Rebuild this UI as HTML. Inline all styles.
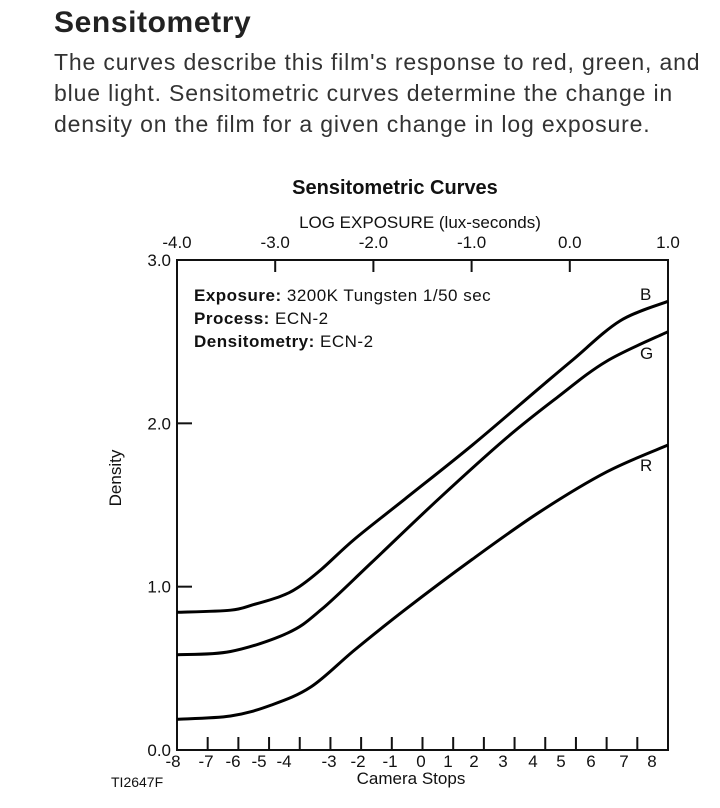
<!DOCTYPE html>
<html><head><meta charset="utf-8"><style>
html,body{margin:0;padding:0;background:#fff;width:720px;height:808px;overflow:hidden}
.h{position:absolute;left:54px;top:6px;font:bold 30px "Liberation Sans",sans-serif;letter-spacing:0.6px;color:#222;margin:0}
.p{position:absolute;left:54px;top:47px;width:666px;font:23px/31px "Liberation Sans",sans-serif;letter-spacing:0.85px;color:#333;margin:0}
svg{position:absolute;left:0;top:0}
svg text{font-family:"Liberation Sans",sans-serif;fill:#111}
</style></head><body>
<h1 class="h">Sensitometry</h1>
<p class="p">The curves describe this film's response to red, green, and blue light. Sensitometric curves determine the change in density on the film for a given change in log exposure.</p>
<svg id="chart" width="720" height="808"></svg>
<script>
const logExp = [-4.0,-3.455,-3.216,-2.95,-2.77,-2.53,-2.19,-1.676,-0.992,-0.31,0.035,0.514,1.0];
const bDensity = [0.843,0.856,0.891,0.94,0.994,1.106,1.292,1.538,1.867,2.216,2.391,2.628,2.747];
const gLogExp = [-4.0,-3.455,-2.874,-2.53,-2.018,-1.334,-0.65,-0.136,0.377,1.0];
const gDensity = [0.583,0.603,0.716,0.86,1.148,1.538,1.908,2.155,2.381,2.561];
const rLogExp = [-4.0,-3.455,-3.045,-2.634,-2.19,-1.676,-0.992,-0.31,0.377,1.0];
const rDensity = [0.188,0.208,0.274,0.387,0.613,0.86,1.168,1.456,1.703,1.867];
const topTicks = [-4.0,-3.0,-2.0,-1.0,0.0,1.0];
const yTicks = [0.0,1.0,2.0,3.0];
const stopLabels = [-8,-7,-6,-5,-4,-3,-2,-1,0,1,2,3,4,5,6,7,8];

const L=177,R=668,T=260,B=750;
const xS=v=>L+(v+4)/5*(R-L);
const yS=v=>B-v/3*(B-T);
const svg=document.getElementById('chart');
const NS='http://www.w3.org/2000/svg';
function mk(tag,attrs,parent){const e=document.createElementNS(NS,tag);for(const k in attrs)e.setAttribute(k,attrs[k]);(parent||svg).appendChild(e);return e;}
function txt(s,attrs){const e=mk('text',attrs);e.textContent=s;return e;}

let t=txt('Sensitometric Curves',{x:395,y:194,'text-anchor':'middle','font-size':20,'font-weight':'bold'});

t=txt('LOG EXPOSURE (lux-seconds)',{x:420,y:228,'text-anchor':'middle','font-size':17});

t=txt('Density',{x:0,y:0,'text-anchor':'middle','font-size':17,transform:'translate(121,478) rotate(-90)'});

t=txt('Camera Stops',{x:411,y:784,'text-anchor':'middle','font-size':17});

t=txt('TI2647F',{x:111,y:787,'font-size':14});


let box=mk('rect',{x:L,y:T,width:R-L,height:B-T,fill:'none',stroke:'#111','stroke-width':2});


topTicks.forEach(v=>{
  const x=xS(v);
  if(v>-4&&v<1){const l=mk('line',{x1:x,y1:T,x2:x,y2:T+12,stroke:'#111','stroke-width':2});}
  const e=txt(v.toFixed(1),{x:x,y:248,'text-anchor':'middle','font-size':17});
  
});
yTicks.forEach(v=>{
  const y=yS(v);
  if(v>0&&v<3){const l=mk('line',{x1:L,y1:y,x2:L+15,y2:y,stroke:'#111','stroke-width':2});}
  const e=txt(v.toFixed(1),{x:171,y:y+6,'text-anchor':'end','font-size':17});
  
});
const stopTickStep=(R-L)/16;
for(let i=1;i<16;i++){
  const x=L+i*stopTickStep;
  const l=mk('line',{x1:x,y1:B,x2:x,y2:B-13,stroke:'#111','stroke-width':2});
  
}
const stopLabelX=[173,206,233,259,284,329,358,390,421,448,474,503,533,561,591,624,652];
stopLabels.forEach((s,i)=>{
  const e=txt(String(s),{x:stopLabelX[i],y:767,'text-anchor':'middle','font-size':17});
  
});

function path(xs,ys){
  const p=xs.map((v,i)=>[xS(v),yS(ys[i])]);
  let d='M'+p[0][0]+','+p[0][1];
  for(let i=0;i<p.length-1;i++){
    const p0=p[i-1]||p[i],p1=p[i],p2=p[i+1],p3=p[i+2]||p2;
    d+=' C'+(p1[0]+(p2[0]-p0[0])/6)+','+(p1[1]+(p2[1]-p0[1])/6)+' '+(p2[0]-(p3[0]-p1[0])/6)+','+(p2[1]-(p3[1]-p1[1])/6)+' '+p2[0]+','+p2[1];
  }
  return d;
}
let c=mk('path',{d:path(logExp,bDensity),fill:'none',stroke:'#000','stroke-width':3});

c=mk('path',{d:path(gLogExp,gDensity),fill:'none',stroke:'#000','stroke-width':3});

c=mk('path',{d:path(rLogExp,rDensity),fill:'none',stroke:'#000','stroke-width':3});


t=txt('B',{x:640,y:300,'font-size':17});
t=txt('G',{x:640,y:359,'font-size':17});
t=txt('R',{x:640,y:471,'font-size':17});

const notes=[['Exposure:',' 3200K Tungsten 1/50 sec',301],['Process:',' ECN-2',324],['Densitometry:',' ECN-2',347]];
notes.forEach(n=>{
  const e=mk('text',{x:194,y:n[2],'font-size':17,'letter-spacing':0.5});
  
  const a=mk('tspan',{'font-weight':'bold'},e);a.textContent=n[0];
  const b=mk('tspan',{},e);b.textContent=n[1];
});
</script>
</body></html>
